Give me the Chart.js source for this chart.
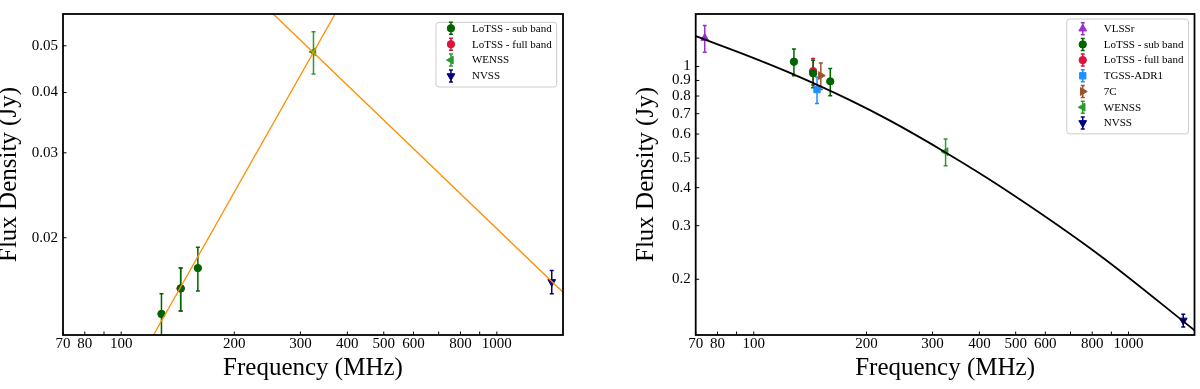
<!DOCTYPE html>
<html>
<head>
<meta charset="utf-8">
<script src="https://cdn.jsdelivr.net/npm/chart.js@4.4.1/dist/chart.umd.min.js"></script>
<style>
  html, body { margin: 0; padding: 0; background: #fff; }
  #wrap { position: relative; width: 1200px; height: 389px; }
  .panel { position: absolute; top: 0; width: 600px; height: 389px; }
</style>
</head>
<body>
<div id="wrap">
  <div class="panel" style="left:0"><canvas id="leftChart" width="600" height="389"></canvas></div>
  <div class="panel" style="left:600px"><canvas id="rightChart" width="600" height="389"></canvas></div>
</div>
<script>
// tick marks (same frequency axis on both panels)
const freqTicks = [70, 80, 90, 100, 200, 300, 400, 500, 600, 700, 800, 900, 1000];
const freqTickLabels = ['70', '80', '', '100', '200', '300', '400', '500', '600', '', '800', '', '1000'];
const leftFluxTicks = [0.02, 0.03, 0.04, 0.05];
const leftFluxTickLabels = ['0.02', '0.03', '0.04', '0.05'];
const rightFluxTicks = [0.2, 0.3, 0.4, 0.5, 0.6, 0.7, 0.8, 0.9, 1];
const rightFluxTickLabels = ['0.2', '0.3', '0.4', '0.5', '0.6', '0.7', '0.8', '0.9', '1'];

// left panel: flux (Jy) and errors
const leftSubFreq = [128, 144, 160];
const leftSubFlux = [0.0139, 0.0157, 0.0173];
const leftSubErr = [0.0014, 0.0016, 0.0018];
const leftFullFreq = [144];
const leftFullFlux = [0.0157];
const leftFullErr = [0.0016];
const leftWenssFreq = [325];
const leftWenssFlux = [0.0486];
const leftWenssErr = [0.0049];
const leftNvssFreq = [1400];
const leftNvssFlux = [0.0162];
const leftNvssErr = [0.0009];
// two power-law fits
const leftFitRiseFreq = [121.9, 371];
const leftFitRiseFlux = [0.01257, 0.0582];
const leftFitFallFreq = [254, 1500];
const leftFitFallFlux = [0.0582, 0.01542];

// right panel
const vlssFreq = [74];
const vlssFlux = [1.24];
const vlssErr = [0.125];
const rightSubFreq = [128, 144, 160];
const rightSubFlux = [1.037, 0.950, 0.894];
const rightSubErr = [0.104, 0.099, 0.092];
const rightFullFreq = [144];
const rightFullFlux = [0.966];
const rightFullErr = [0.097];
const tgssFreq = [147.5];
const tgssFlux = [0.840];
const tgssErr = [0.084];
const c7Freq = [151];
const c7Flux = [0.934];
const c7Err = [0.094];
const rightWenssFreq = [325];
const rightWenssFlux = [0.525];
const rightWenssErr = [0.053];
const rightNvssFreq = [1400];
const rightNvssFlux = [0.1465];
const rightNvssErr = [0.007];
// curved fit
const rightFitFreq = [70, 100, 125, 180, 231, 325, 453, 837, 1500];
const rightFitFlux = [1.259, 1.066, 0.953, 0.777, 0.664, 0.522, 0.405, 0.240, 0.136];

const serif = '"Liberation Serif", "DejaVu Serif", serif';
Chart.defaults.font.family = serif;
Chart.defaults.color = '#000';

function pts(xs, ys) {
  return xs.map((x, i) => ({ x: x, y: ys[i] }));
}

function series(label, xs, ys, errs, color, style, rot, radius, order) {
  return {
    label: label,
    data: pts(xs, ys),
    errors: errs,
    pointStyle: style,
    pointRotation: rot,
    pointRadius: radius,
    backgroundColor: color,
    borderColor: color,
    borderWidth: 1,
    showLine: false,
    order: order
  };
}

function fitLine(xs, ys, color, width) {
  return {
    label: 'fit',
    data: pts(xs, ys),
    showLine: true,
    pointRadius: 0,
    borderColor: color,
    borderWidth: width,
    cubicInterpolationMode: 'monotone',
    order: 0
  };
}

// error bars under the markers, back to front like the markers
const errorBars = {
  id: 'errorBars',
  beforeDatasetsDraw(chart) {
    const ctx = chart.ctx;
    const xs = chart.scales.x, ys = chart.scales.y, area = chart.chartArea;
    const list = chart.data.datasets.map((d, i) => ({ d: d, i: i })).filter(o => o.d.errors);
    list.sort((a, b) => (b.d.order - a.d.order) || (b.i - a.i));
    ctx.save();
    ctx.beginPath();
    ctx.rect(area.left, area.top, area.right - area.left, area.bottom - area.top);
    ctx.clip();
    list.forEach(o => {
      const ds = o.d;
      ctx.strokeStyle = ds.borderColor;
      ctx.lineWidth = 1.5;
      ds.data.forEach((p, i) => {
        const e = ds.errors[i];
        const px = xs.getPixelForValue(p.x);
        const top = ys.getPixelForValue(p.y + e);
        const bot = p.y - e > 0 ? ys.getPixelForValue(p.y - e) : area.bottom + 10;
        ctx.beginPath();
        ctx.moveTo(px, top); ctx.lineTo(px, bot);
        ctx.moveTo(px - 2, top); ctx.lineTo(px + 2, top);
        ctx.moveTo(px - 2, bot); ctx.lineTo(px + 2, bot);
        ctx.stroke();
      });
    });
    ctx.restore();
  }
};

// axes frame, inward ticks, boxed legend
const frameAndLegend = {
  id: 'frameAndLegend',
  afterDraw(chart, args, opts) {
    const ctx = chart.ctx, area = chart.chartArea;
    const xs = chart.scales.x, ys = chart.scales.y;
    ctx.save();
    ctx.strokeStyle = '#000';
    ctx.lineWidth = 1;
    ctx.beginPath();
    xs.ticks.forEach(t => {
      const px = xs.getPixelForValue(t.value);
      ctx.moveTo(px, area.bottom); ctx.lineTo(px, area.bottom - 3.5);
    });
    ys.ticks.forEach(t => {
      const py = ys.getPixelForValue(t.value);
      ctx.moveTo(area.left, py); ctx.lineTo(area.left + 3.5, py);
    });
    ctx.stroke();
    ctx.lineWidth = 1.8;
    ctx.strokeRect(area.left, area.top, area.right - area.left, area.bottom - area.top);

    // legend
    const items = chart.data.datasets.filter(d => d.errors);
    ctx.font = '11px ' + serif;
    const textW = Math.max(...items.map(d => ctx.measureText(d.label).width));
    const w = opts.textDx + textW + 5;
    const h = opts.firstRow + (items.length - 1) * opts.rowStep + opts.bottomPad;
    const left = area.right - opts.right - w;
    const top = area.top + opts.top;
    ctx.beginPath();
    ctx.roundRect(left, top, w, h, 3);
    ctx.fillStyle = 'rgba(255,255,255,0.8)';
    ctx.fill();
    ctx.strokeStyle = '#cccccc';
    ctx.lineWidth = 1;
    ctx.stroke();
    items.forEach((d, i) => {
      const cy = top + opts.firstRow + i * opts.rowStep;
      const cx = left + opts.markerDx;
      ctx.strokeStyle = d.borderColor;
      ctx.fillStyle = d.backgroundColor;
      ctx.lineWidth = 1.5;
      ctx.beginPath();
      ctx.moveTo(cx, cy - 6); ctx.lineTo(cx, cy + 6);
      ctx.moveTo(cx - 2, cy - 6); ctx.lineTo(cx + 2, cy - 6);
      ctx.moveTo(cx - 2, cy + 6); ctx.lineTo(cx + 2, cy + 6);
      ctx.stroke();
      ctx.lineWidth = 1;
      Chart.helpers.drawPoint(ctx, { pointStyle: d.pointStyle, rotation: d.pointRotation, radius: d.pointRadius, borderWidth: 1 }, cx, cy);
      ctx.fillStyle = '#000';
      ctx.textBaseline = 'middle';
      ctx.textAlign = 'left';
      ctx.fillText(d.label, left + opts.textDx, cy + 0.5);
    });
    ctx.restore();
  }
};

function makeChart(id, datasets, yMin, yMax, yTicks, yLabels, yWidth, yTitlePad, padRight, legendOpts) {
  return new Chart(document.getElementById(id), {
    type: 'scatter',
    data: { datasets: datasets },
    plugins: [errorBars, frameAndLegend],
    options: {
      responsive: false,
      animation: false,
      devicePixelRatio: 1,
      events: [],
      layout: { padding: { top: 5, right: padRight, bottom: 0, left: 0 } },
      plugins: {
        legend: { display: false },
        tooltip: { enabled: false },
        frameAndLegend: legendOpts
      },
      scales: {
        x: {
          type: 'logarithmic',
          min: 70,
          max: 1500,
          grid: { display: false, drawTicks: false },
          border: { display: false },
          afterBuildTicks: s => { s.ticks = freqTicks.map(v => ({ value: v })); },
          afterFit: s => { s.height = 54; },
          ticks: {
            autoSkip: false, maxRotation: 0, padding: 0,
            font: { size: 15, lineHeight: 1.15 },
            callback: (v, i) => freqTickLabels[i]
          },
          title: {
            display: true, text: 'Frequency (MHz)',
            font: { size: 25, lineHeight: 0.75 },
            padding: { top: 0, bottom: 11 }
          }
        },
        y: {
          type: 'logarithmic',
          min: yMin,
          max: yMax,
          grid: { display: false, drawTicks: false },
          border: { display: false },
          afterBuildTicks: s => { s.ticks = yTicks.map(v => ({ value: v })); },
          afterFit: s => { s.width = yWidth; },
          ticks: {
            autoSkip: false, padding: 5,
            font: { size: 15 },
            callback: (v, i) => yLabels[i]
          },
          title: {
            display: true, text: 'Flux Density (Jy)',
            font: { size: 25, lineHeight: 0.75 },
            padding: { top: yTitlePad, bottom: 0 }
          }
        }
      }
    }
  });
}

makeChart('leftChart', [
  series('LoTSS - sub band', leftSubFreq, leftSubFlux, leftSubErr, '#006400', 'circle', 0, 3.7, 1),
  series('LoTSS - full band', leftFullFreq, leftFullFlux, leftFullErr, '#dc143c', 'circle', 0, 3.7, 2),
  series('WENSS', leftWenssFreq, leftWenssFlux, leftWenssErr, '#2e9a2e', 'triangle', 270, 4.5, 1),
  series('NVSS', leftNvssFreq, leftNvssFlux, leftNvssErr, '#000080', 'triangle', 180, 4.5, 1),
  fitLine(leftFitRiseFreq, leftFitRiseFlux, '#ff8c00', 1.3),
  fitLine(leftFitFallFreq, leftFitFallFlux, '#ff8c00', 1.3)
], 0.01257, 0.0582, leftFluxTicks, leftFluxTickLabels, 63, 0, 37,
  { right: 6.3, top: 8.3, firstRow: 6, rowStep: 15.9, bottomPad: 11, markerDx: 15, textDx: 36 });

makeChart('rightChart', [
  series('VLSSr', vlssFreq, vlssFlux, vlssErr, '#9932cc', 'triangle', 0, 4.5, 1),
  series('LoTSS - sub band', rightSubFreq, rightSubFlux, rightSubErr, '#006400', 'circle', 0, 3.7, 1),
  series('LoTSS - full band', rightFullFreq, rightFullFlux, rightFullErr, '#dc143c', 'circle', 0, 3.7, 2),
  series('TGSS-ADR1', tgssFreq, tgssFlux, tgssErr, '#1e90ff', 'rect', 0, 4.5, 1),
  series('7C', c7Freq, c7Flux, c7Err, '#a0522d', 'triangle', 90, 4.5, 1),
  series('WENSS', rightWenssFreq, rightWenssFlux, rightWenssErr, '#2e9a2e', 'triangle', 270, 4.5, 1),
  series('NVSS', rightNvssFreq, rightNvssFlux, rightNvssErr, '#000080', 'triangle', 180, 4.5, 1),
  fitLine(rightFitFreq, rightFitFlux, '#000000', 1.8)
], 0.1312, 1.488, rightFluxTicks, rightFluxTickLabels, 95.7, 37.4, 5,
  { right: 6, top: 5, firstRow: 9.7, rowStep: 15.7, bottomPad: 11, markerDx: 16, textDx: 37 });
</script>
</body>
</html>
